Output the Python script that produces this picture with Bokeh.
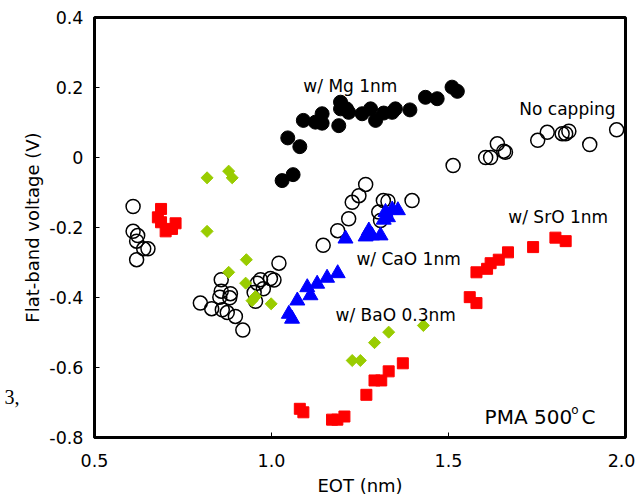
import numpy as np
from bokeh.plotting import figure
from bokeh.models import Range1d, FixedTicker, LinearAxis
from bokeh.models import Label
from bokeh.embed import file_html
from bokeh.resources import INLINE

# ---- data ----
nocap_x = [0.609, 0.609, 0.622, 0.619, 0.639, 0.651, 0.619,
           0.799, 0.831, 0.861, 0.875, 0.858, 0.858, 0.884, 0.854, 0.882, 0.898, 0.919,
           0.960, 0.969, 0.997, 1.007, 1.021, 0.951, 0.955, 0.977,
           1.266, 1.247, 1.228, 1.218, 1.187, 1.146, 1.316, 1.329, 1.303, 1.308, 1.397,
           1.513, 1.605, 1.619, 1.638, 1.656, 1.661, 1.752, 1.779, 1.821, 1.831, 1.840, 1.899, 1.975]
nocap_y = [-0.140, -0.211, -0.223, -0.239, -0.261, -0.261, -0.292,
           -0.416, -0.432, -0.435, -0.443, -0.349, -0.382, -0.389, -0.399, -0.401, -0.454, -0.493,
           -0.359, -0.349, -0.346, -0.350, -0.302, -0.386, -0.411, -0.375,
           -0.077, -0.109, -0.128, -0.175, -0.209, -0.251, -0.123, -0.125, -0.156, -0.180, -0.123,
           -0.023, 0.000, 0.000, 0.039, 0.018, 0.015, 0.049, 0.072, 0.068, 0.068, 0.075, 0.037, 0.079]

mg_x = [1.030, 1.061, 1.046, 1.080, 1.090, 1.124, 1.143, 1.143, 1.190, 1.195, 1.195, 1.212,
        1.218, 1.256, 1.280, 1.294, 1.317, 1.341, 1.350, 1.391, 1.435, 1.468, 1.510, 1.525]
mg_y = [-0.066, -0.049, 0.056, 0.031, 0.106, 0.101, 0.125, 0.098, 0.091, 0.158, 0.139, 0.139,
        0.129, 0.125, 0.139, 0.106, 0.127, 0.129, 0.139, 0.136, 0.172, 0.168, 0.201, 0.189]

sro_x = [0.688, 0.679, 0.688, 0.701, 0.729, 0.719,
         1.080, 1.090, 1.171, 1.186, 1.206, 1.268, 1.291, 1.310, 1.331, 1.371,
         1.560, 1.579, 1.579, 1.609, 1.619, 1.642, 1.668, 1.739, 1.802, 1.831]
sro_y = [-0.147, -0.171, -0.185, -0.211, -0.188, -0.204,
         -0.718, -0.728, -0.749, -0.749, -0.740, -0.678, -0.637, -0.637, -0.611, -0.588,
         -0.399, -0.416, -0.328, -0.318, -0.302, -0.292, -0.271, -0.256, -0.229, -0.239]

cao_x = [1.049, 1.058, 1.073, 1.101, 1.110, 1.129, 1.157, 1.187, 1.209,
         1.275, 1.266, 1.284, 1.308, 1.317, 1.322, 1.329, 1.341, 1.357]
cao_y = [-0.447, -0.461, -0.409, -0.371, -0.394, -0.361, -0.344, -0.331, -0.232,
         -0.209, -0.226, -0.223, -0.223, -0.178, -0.156, -0.171, -0.149, -0.151]

bao_x = [0.818, 0.879, 0.889, 0.818, 0.929, 0.879, 0.927, 0.955, 0.945, 0.999,
         1.228, 1.251, 1.291, 1.331, 1.429]
bao_y = [-0.058, -0.039, -0.058, -0.211, -0.292, -0.328, -0.359, -0.397, -0.409, -0.418,
         -0.580, -0.580, -0.529, -0.499, -0.480]

x_ticks = [0.5, 1.0, 1.5, 2.0]
x_tick_labels = ["0.5", "1.0", "1.5", "2.0"]
y_ticks = [-0.8, -0.6, -0.4, -0.2, 0.0, 0.2, 0.4]
y_tick_labels = ["-0.8", "-0.6", "-0.4", "-0.2", "0", "0.2", "0.4"]

# stray page text visible at the left edge of the reference crop
stray_pos = [-0.683]
stray_text = ["3,"]

FONT = "DejaVu Sans"

p = figure(width=635, height=500, output_backend="svg", toolbar_location=None,
           x_range=Range1d(0.5, 2.0), y_range=Range1d(-0.8, 0.4),
           min_border_left=94, min_border_top=17, min_border_right=10, min_border_bottom=63)

p.background_fill_color = "white"
p.border_fill_color = "white"
p.outline_line_color = "black"
p.outline_line_width = 3
p.xgrid.visible = False
p.ygrid.visible = False

# axes
p.xaxis.ticker = FixedTicker(ticks=x_ticks)
p.yaxis.ticker = FixedTicker(ticks=y_ticks)
p.xaxis.major_label_overrides = {t: l for t, l in zip(x_ticks, x_tick_labels)}
p.yaxis.major_label_overrides = {t: l for t, l in zip(y_ticks, y_tick_labels)}
for ax in (p.xaxis, p.yaxis):
    ax.axis_line_color = "black"
    ax.axis_line_width = 3
    ax.major_tick_in = 5
    ax.major_tick_out = 0
    ax.major_tick_line_color = "black"
    ax.major_tick_line_width = 1
    ax.minor_tick_line_color = None
    ax.major_label_text_font = FONT
    ax.major_label_text_font_size = "17.5px"
    ax.major_label_text_color = "black"
    ax.axis_label_text_font = FONT
    ax.axis_label_text_font_size = "18px"
    ax.axis_label_text_font_style = "normal"
    ax.axis_label_text_color = "black"
p.xaxis.axis_label = "EOT (nm)"
p.yaxis.axis_label = "Flat-band voltage (V)"
p.xaxis.major_label_standoff = 16
p.xaxis.axis_label_standoff = 5
p.yaxis.major_label_standoff = 11
p.yaxis.axis_label_standoff = 3

# outer, invisible axis carrying the stray "3," text
extra = LinearAxis(ticker=FixedTicker(ticks=stray_pos),
                   major_label_overrides={t: s for t, s in zip(stray_pos, stray_text)},
                   axis_line_color=None, major_tick_line_color=None, minor_tick_line_color=None,
                   major_tick_in=0, major_tick_out=0, major_label_standoff=0,
                   major_label_text_font="Liberation Serif", major_label_text_font_size="20px",
                   major_label_text_color="black")
p.add_layout(extra, "left")

# series
p.scatter(nocap_x, nocap_y, marker="circle", size=14, fill_color=None,
          line_color="black", line_width=1.5)
p.scatter(mg_x, mg_y, marker="circle", size=14, fill_color="black", line_color="black")
p.scatter(sro_x, sro_y, marker="square", size=11, fill_color="#FF0000", line_color="#FF0000")
p.scatter(cao_x, cao_y, marker="triangle", size=15, fill_color="#0000FF", line_color="#0000FF")
p.scatter(bao_x, bao_y, marker="square", size=8.5, angle=np.pi / 4,
          fill_color="#99CC00", line_color="#99CC00")

# annotations
def lab(x, y, t, size="17px", baseline="middle", font=FONT):
    p.add_layout(Label(x=x, y=y, text=t, text_font=font, text_font_size=size,
                       text_color="black", text_align="left", text_baseline=baseline))

lab(1.090, 0.203, "w/ Mg 1nm")
lab(1.700, 0.140, "No capping")
lab(1.669, -0.169, "w/ SrO 1nm")
lab(1.240, -0.291, "w/ CaO 1nm")
lab(1.181, -0.449, "w/ BaO 0.3nm")
lab(1.602, -0.742, "PMA 500", size="20px", baseline="alphabetic")
lab(1.847, -0.722, "o", size="12px", baseline="alphabetic")
lab(1.876, -0.742, "C", size="20px", baseline="alphabetic")

open("out.html", "w").write(file_html(p, INLINE))
